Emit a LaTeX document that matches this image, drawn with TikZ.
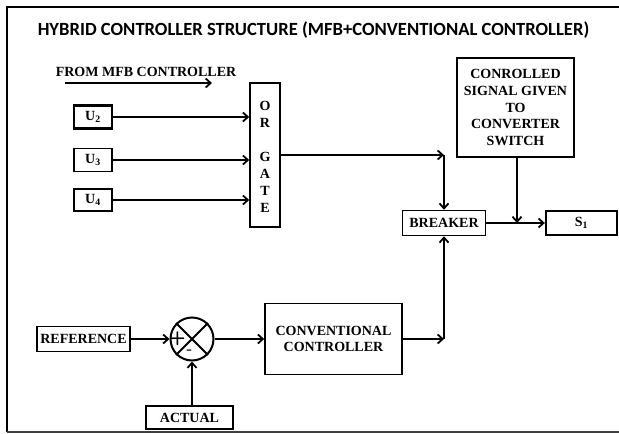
\documentclass[tikz,border=0pt]{standalone}
\usepackage{fontspec}
\setmainfont{Liberation Serif}
\newfontfamily\titlefont{Carlito}
\usetikzlibrary{arrows.meta,calc}
\begin{document}
\begin{tikzpicture}[x=1pt,y=-1pt,
  box/.style={draw,line width=1.5pt,inner sep=0pt,align=center,font=\fontsize{14}{16}\selectfont\bfseries},
  thickbox/.style={box,line width=2.3pt},
  arr/.style={line width=2pt,-{Straight Barb[length=5pt,width=9pt,line width=1.8pt]}},
  ln/.style={line width=2pt}]
\useasboundingbox (0,0) rectangle (619,434);
% frame
\draw[line width=2.6pt] (7,432) -- (7,7) -- (619,7);
\draw[line width=1.6pt,black!75] (7,432) -- (619,432);
\node[font=\titlefont\bfseries\fontsize{18.6}{20}\selectfont] (title) at (313.5,30) {HYBRID CONTROLLER STRUCTURE (MFB+CONVENTIONAL CONTROLLER)};
\node[font=\fontsize{14}{16}\selectfont\bfseries] (from) at (146,72) {FROM MFB CONTROLLER};
\coordinate (fa) at (65,83);
\coordinate (fb) at (212,83);
\draw[arr] (fa) -- (fb);
% inputs
\node[thickbox,minimum width=38pt,minimum height=23pt] (u2) at (93,117) {U\textsubscript{2}};
\node[box,minimum width=38pt,minimum height=23pt] (u3) at (93,160) {U\textsubscript{3}};
\node[box,minimum width=38pt,minimum height=22pt] (u4) at (93,200) {U\textsubscript{4}};
\node[box,minimum width=30pt,minimum height=144pt] (org) at (265,155) {};
\node[font=\fontsize{14}{17}\selectfont\bfseries,align=center] (orl) at (265,157) {O\\R\\[17pt]G\\A\\T\\E};
\draw[arr] (u2.east) -- (u2.east -| org.west);
\draw[arr] (u3.east) -- (u3.east -| org.west);
\draw[arr] (u4.east) -- (u4.east -| org.west);
% breaker and control
\node[box,minimum width=83pt,minimum height=25pt] (brk) at (444,223) {BREAKER};
\node[box,minimum width=117pt,minimum height=99pt,font=\fontsize{14}{16.7}\selectfont\bfseries] (ctl) at (515.5,107.5) {CONROLLED\\SIGNAL GIVEN\\TO\\CONVERTER\\SWITCH};
\node[thickbox,minimum width=71pt,minimum height=24pt] (s1) at (581.5,223) {S\textsubscript{1}};
\coordinate (c1) at (brk.north |- org.east);
\draw[arr] (org.east) -- (c1);
\draw[arr] (c1) -- (brk.north);
\draw[arr] (brk.east) -- (s1.west);
\coordinate (j1) at (517,223);
\draw[arr] (ctl.south -| j1) -- (j1);
% lower loop
\node[box,minimum width=93pt,minimum height=25pt] (ref) at (83.5,339) {REFERENCE};
\node[draw,circle,line width=2pt,minimum size=43pt,inner sep=0pt] (sum) at (192,339) {};
\draw[line width=2pt] (sum.north west) -- (sum.south east) (sum.north east) -- (sum.south west);
\node[font=\sffamily\bfseries\fontsize{19}{19}\selectfont] (plus) at (177.5,339) {+};
\node[font=\sffamily\bfseries\fontsize{17}{17}\selectfont] (minus) at (189.5,352) {-};
\node[box,minimum width=137pt,minimum height=71pt] (cc) at (333.5,339) {CONVENTIONAL\\CONTROLLER};
\node[box,minimum width=87pt,minimum height=23pt] (act) at (189.5,417.5) {ACTUAL};
\draw[arr] (ref.east) -- (sum.west);
\draw[arr] (sum.east) -- (sum.east -| cc.west);
\coordinate (c2) at (cc.east -| brk.south);
\draw[arr] (cc.east) -- (c2);
\draw[arr] (c2) -- (brk.south);
\draw[arr] (act.north -| sum.south) -- (sum.south);
\end{tikzpicture}
\end{document}
